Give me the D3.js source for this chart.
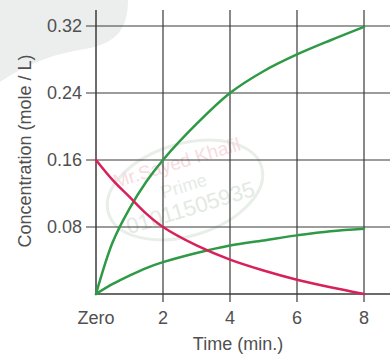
<!DOCTYPE html>
<html>
<head>
<meta charset="utf-8">
<script src="https://cdn.jsdelivr.net/npm/d3@7"></script>
<style>
  html, body { margin: 0; padding: 0; background: #fff; }
  svg { display: block; }
  text { font-family: "Liberation Sans", Arial, sans-serif; }
</style>
</head>
<body>
<svg id="chart" width="390" height="356"></svg>
<script>
// ---- data ----
const times = [0, 0.5, 1, 1.5, 2, 3, 4, 5, 6, 7, 8];
const reactant = [0.16, 0.136, 0.116, 0.096, 0.08, 0.058, 0.041, 0.028, 0.017, 0.008, 0.0];
const productHigh = [0, 0.062, 0.102, 0.134, 0.16, 0.203, 0.24, 0.266, 0.286, 0.303, 0.319];
const productLow = [0, 0.012, 0.022, 0.031, 0.038, 0.049, 0.058, 0.064, 0.07, 0.075, 0.078];
const xTicks = [0, 2, 4, 6, 8];
const xTickLabels = ["Zero", "2", "4", "6", "8"];
const yTicks = [0.08, 0.16, 0.24, 0.32];
const yTickLabels = ["0.08", "0.16", "0.24", "0.32"];
const xTitle = "Time (min.)";
const yTitle = "Concentration (mole / L)";

// ---- drawing ----
const svg = d3.select("#chart");
const x = d3.scaleLinear().domain([0, 8]).range([96, 364]);
const y = d3.scaleLinear().domain([0, 0.32]).range([294, 26]);

// faint background blob
svg.append("path")
  .attr("d", "M0,0 L128,0 C128,30 115,44 85,49 C55,54 30,62 0,82 Z")
  .attr("fill", "#eceeee");

// watermark
const wm = svg.append("g").attr("transform", "translate(185,190) rotate(-17)");
wm.append("ellipse").attr("rx", 80).attr("ry", 46)
  .attr("fill", "none").attr("stroke", "#e8eee8").attr("stroke-width", 3);
wm.append("text").attr("y", -22).attr("text-anchor", "middle")
  .attr("font-size", 19).attr("fill", "#f6dce1").text("Mr.Sayed Khalil");
wm.append("text").attr("y", 2).attr("text-anchor", "middle")
  .attr("font-size", 18).attr("fill", "#e6ebe6").text("Prime");
wm.append("text").attr("y", 26).attr("text-anchor", "middle")
  .attr("font-size", 22).attr("fill", "#e3e9e3").text("01011505935");

const gridColor = "#3a3a3a";
// horizontal grid lines (with left ticks)
svg.append("g").selectAll("line").data(yTicks).join("line")
  .attr("x1", 86).attr("x2", 390)
  .attr("y1", d => y(d)).attr("y2", d => y(d))
  .attr("stroke", gridColor).attr("stroke-width", 1.2);
// x axis baseline
svg.append("line").attr("x1", x(0)).attr("x2", 390)
  .attr("y1", y(0)).attr("y2", y(0))
  .attr("stroke", gridColor).attr("stroke-width", 1.4);
// vertical grid lines
svg.append("g").selectAll("line").data(xTicks).join("line")
  .attr("x1", d => x(d)).attr("x2", d => x(d))
  .attr("y1", 10).attr("y2", d => d === 0 ? y(0) : y(0) + 8)
  .attr("stroke", gridColor).attr("stroke-width", d => d === 0 ? 1.5 : 1.2);

// tick labels
svg.append("g").selectAll("text").data(yTicks).join("text")
  .attr("x", 82).attr("y", d => y(d)).attr("dy", "0.35em")
  .attr("text-anchor", "end").attr("font-size", 18).attr("fill", "#505050")
  .text((d, i) => yTickLabels[i]);
svg.append("g").selectAll("text").data(xTicks).join("text")
  .attr("x", d => x(d)).attr("y", 324)
  .attr("text-anchor", "middle").attr("font-size", 18).attr("fill", "#505050")
  .text((d, i) => xTickLabels[i]);

// axis titles
svg.append("text").attr("x", 238).attr("y", 350)
  .attr("text-anchor", "middle").attr("font-size", 18).attr("fill", "#505050")
  .text(xTitle);
svg.append("text").attr("transform", "translate(31,151) rotate(-90)")
  .attr("text-anchor", "middle").attr("font-size", 18).attr("fill", "#505050")
  .text(yTitle);

// curves
const line = d3.line().x(d => x(d[0])).y(d => y(d[1])).curve(d3.curveCatmullRom.alpha(0.5));
const series = [
  { values: productLow, color: "#2e9a46" },
  { values: productHigh, color: "#2e9a46" },
  { values: reactant, color: "#d8205a" }
];
series.forEach(s => {
  svg.append("path")
    .datum(times.map((t, i) => [t, s.values[i]]))
    .attr("d", line)
    .attr("fill", "none").attr("stroke", s.color)
    .attr("stroke-width", 2.5).attr("stroke-linecap", "round");
});
</script>
</body>
</html>
